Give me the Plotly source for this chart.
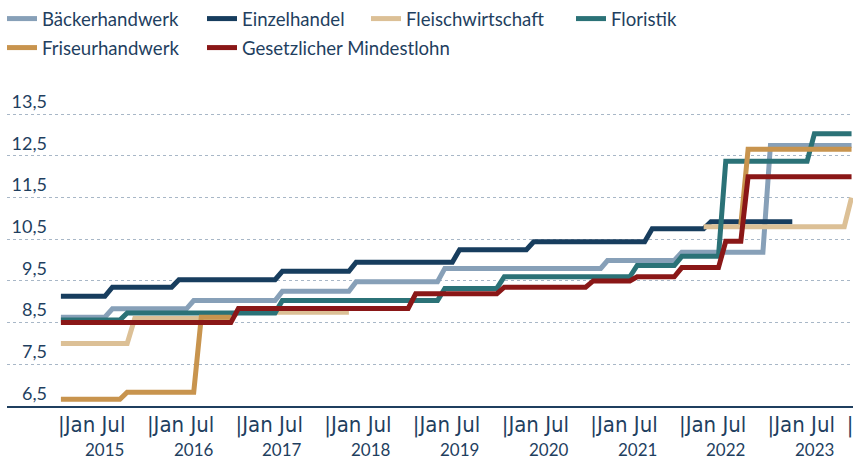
import plotly.graph_objects as go

# ---------------- data ----------------
series_names = ["Bäckerhandwerk", "Einzelhandel", "Fleischwirtschaft",
                "Floristik", "Friseurhandwerk", "Gesetzlicher Mindestlohn"]

baecker_x = ["2015-01", "2015-07", "2015-08", "2016-06", "2016-07", "2017-06", "2017-07",
             "2018-04", "2018-05", "2019-04", "2019-05", "2021-02", "2021-03", "2021-12",
             "2022-01", "2022-12", "2023-01", "2023-12"]
baecker_y = [8.63, 8.63, 8.83, 8.83, 9.03, 9.03, 9.25, 9.25, 9.48, 9.48, 9.80, 9.80,
             9.99, 9.99, 10.19, 10.19, 12.75, 12.75]

einzel_x = ["2015-01", "2015-07", "2015-08", "2016-04", "2016-05", "2017-06", "2017-07",
            "2018-04", "2018-05", "2019-06", "2019-07", "2020-04", "2020-05", "2021-08",
            "2021-09", "2022-04", "2022-05", "2023-04"]
einzel_y = [9.13, 9.13, 9.35, 9.35, 9.53, 9.53, 9.73, 9.73, 9.95, 9.95, 10.25, 10.25,
            10.44, 10.44, 10.75, 10.75, 10.92, 10.92]

fleisch_x = ["2015-01", "2015-10", "2015-11", "2016-12", "2017-01", "2018-04", None,
             "2022-04", "2023-11", "2023-12"]
fleisch_y = [8.00, 8.00, 8.60, 8.60, 8.75, 8.75, None, 10.80, 10.80, 11.50]

florist_x = ["2015-01", "2015-09", "2015-10", "2017-06", "2017-07", "2019-04", "2019-05",
             "2019-12", "2020-01", "2021-06", "2021-07", "2021-12", "2022-01", "2022-06",
             "2022-07", "2023-06", "2023-07", "2023-12"]
florist_y = [8.56, 8.56, 8.73, 8.73, 9.03, 9.03, 9.32, 9.32, 9.60, 9.60, 9.87, 9.87,
             10.09, 10.09, 12.37, 12.37, 13.03, 13.03]

friseur_x = ["2015-01", "2015-09", "2015-10", "2016-07", "2016-08", "2016-12", None,
             "2022-09", "2022-10", "2023-12"]
friseur_y = [6.66, 6.66, 6.83, 6.83, 8.63, 8.63, None, 10.85, 12.66, 12.66]

mindest_x = ["2015-01", "2016-12", "2017-01", "2018-12", "2019-01", "2019-12", "2020-01",
             "2020-12", "2021-01", "2021-06", "2021-07", "2021-12", "2022-01", "2022-06",
             "2022-07", "2022-09", "2022-10", "2023-12"]
mindest_y = [8.50, 8.50, 8.84, 8.84, 9.19, 9.19, 9.35, 9.35, 9.50, 9.50, 9.60, 9.60,
             9.82, 9.82, 10.45, 10.45, 12.00, 12.00]

years = [2015, 2016, 2017, 2018, 2019, 2020, 2021, 2022, 2023]
month_tick_text = "|Jan Jul"
y_ticks = [6.5, 7.5, 8.5, 9.5, 10.5, 11.5, 12.5, 13.5]
y_tick_text = ["6,5", "7,5", "8,5", "9,5", "10,5", "11,5", "12,5", "13,5"]

colors = ["#87a0b8", "#173d5e", "#dcc096", "#2b7277", "#c8944e", "#8a1717"]
TEXT = "#1f3f5f"
FONT = "Lato"

# legend entry placement (pixels in the 853x460 canvas): left edge, row
legend_ids = ["legend", "legend2", "legend3", "legend4", "legend5", "legend6"]
legend_left_px = [2, 202, 366, 571, 2, 202]
legend_row = [0, 0, 0, 0, 1, 1]

# ---------------- figure ----------------
fig = go.Figure()
xs = [baecker_x, einzel_x, fleisch_x, florist_x, friseur_x, mindest_x]
ys = [baecker_y, einzel_y, fleisch_y, florist_y, friseur_y, mindest_y]
for name, x, y, c, lg in zip(series_names, xs, ys, colors, legend_ids):
    fig.add_trace(go.Scatter(x=x, y=y, name=name, mode="lines", legend=lg,
                             line=dict(color=c, width=5), connectgaps=False))

legends = {}
for lg, left, row in zip(legend_ids, legend_left_px, legend_row):
    legends[lg] = dict(orientation="h", xref="container", yref="container",
                       xanchor="left", yanchor="top",
                       x=left / 853, y=1 - row * 29 / 460,
                       font=dict(family=FONT, size=18.6, color=TEXT),
                       bgcolor="rgba(0,0,0,0)")

tickvals = [f"{y}-05-08" for y in years] + ["2023-11-25"]
ticktext = [month_tick_text] * len(years) + ["|"]

fig.update_layout(
    width=853, height=460,
    margin=dict(l=7, r=0, t=110, b=54, pad=0, autoexpand=False),
    paper_bgcolor="white", plot_bgcolor="white",
    font=dict(family=FONT, color=TEXT, size=17),
    showlegend=True,
    xaxis=dict(type="date", range=["2014-05-24", "2023-12-07"],
               showgrid=False, zeroline=False, showline=True,
               linecolor=TEXT, linewidth=1.5, ticks="",
               tickvals=tickvals, ticktext=ticktext, ticklabeloverflow="allow",
               ticklabelstandoff=-2,
               tickfont=dict(family="Liberation Sans Narrow, DejaVu Sans Condensed, sans-serif",
                             size=22, color=TEXT)),
    yaxis=dict(range=[6.5, 13.6], anchor="free", position=0.0473,
               showgrid=True, griddash="dot", gridcolor="#a8b7c7", gridwidth=1,
               zeroline=False, showline=False, ticks="",
               tickvals=y_ticks, ticktext=y_tick_text,
               ticklabelposition="outside top",
               tickfont=dict(family=FONT, size=18, color=TEXT)),
    **legends,
)

for yr in years:
    fig.add_annotation(x=f"{yr}-07-01", y=0, xref="x", yref="paper",
                       yanchor="bottom", yshift=-53.5, showarrow=False,
                       borderpad=0, borderwidth=0,
                       text=str(yr), font=dict(family=FONT, size=17, color=TEXT))

fig.write_html("out.html", config={"displayModeBar": False},
               post_script="document.body.style.margin='0';")
